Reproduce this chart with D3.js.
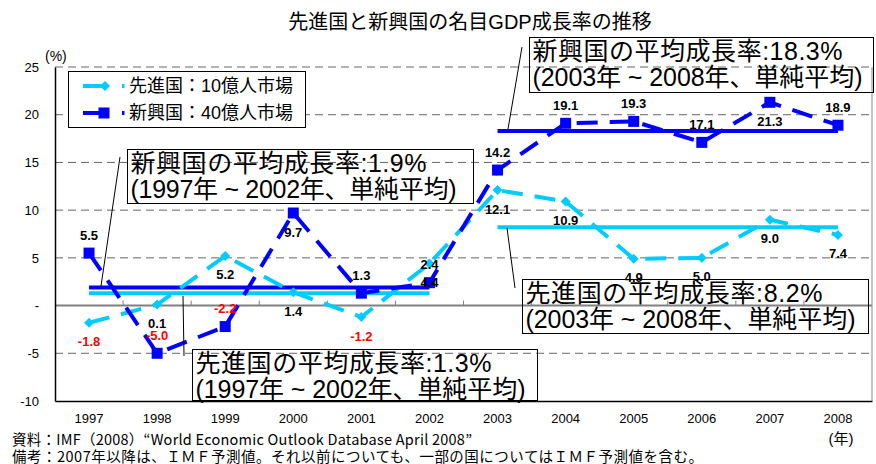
<!DOCTYPE html>
<html><head><meta charset="utf-8">
<script src="https://cdn.jsdelivr.net/npm/d3@7"></script>
<style>
html,body{margin:0;padding:0;background:#fff;}
svg{display:block;}
</style></head>
<body>
<svg id="chart" width="876" height="464"></svg>
<script>
// ---- data ----
const years = ["1997","1998","1999","2000","2001","2002","2003","2004","2005","2006","2007","2008"];
const advanced = [-1.8, 0.1, 5.2, 1.4, -1.2, 4.4, 12.1, 10.9, 4.9, 5.0, 9.0, 7.4];   // 先進国
const emerging = [5.5, -5.0, -2.2, 9.7, 1.3, 2.4, 14.2, 19.1, 19.3, 17.1, 21.3, 18.9]; // 新興国
const avgPeriods = [["1997","2002"],["2003","2008"]];
const advancedAvg = [1.3, 8.2];
const emergingAvg = [1.9, 18.3];
const yTicks = [-10,-5,0,5,10,15,20,25];
const yTickLabels = ["-10","-5","-","5","10","15","20","25"];
const seriesNames = ["先進国：10億人市場","新興国：40億人市場"];
// label placement (style, separate from data)
const advancedLabelSide = ["b","b","b","b","b","b","b","b","b","b","b","b"];
const emergingLabelSide = ["a","a","a","b","a","a","a","a","a","a","b","a"];

const CYAN = "#00ccff", BLUE = "#0000ff";
const JP = "'Noto Sans CJK JP', sans-serif";
const MIX = "'Liberation Sans', 'Noto Sans CJK JP', sans-serif";
const LAT = "'Liberation Sans', Arial, sans-serif";

const svg = d3.select("#chart");
const L = 55, R = 872, T = 67, B = 401;

const x = d3.scaleBand().domain(years).range([L, R]);
const cx = d => x(d) + x.bandwidth()/2;
const y = d3.scaleLinear().domain([-10, 25]).range([B, T]);

// title
svg.append("text").attr("x", 470).attr("y", 22).attr("text-anchor","middle")
  .attr("dominant-baseline","central").attr("font-family", MIX).attr("font-size", 20)
  .attr("fill","#000").text("先進国と新興国の名目GDP成長率の推移");

// (%)
svg.append("text").attr("x", 45).attr("y", 56).attr("dominant-baseline","central")
  .attr("font-family", LAT).attr("font-size", 14).text("(%)");

// gridlines
svg.append("g").selectAll("line").data(yTicks.filter(v => v !== 0 && v !== -10)).join("line")
  .attr("x1", L).attr("x2", R).attr("y1", d => y(d)).attr("y2", d => y(d))
  .attr("stroke", "#666").attr("stroke-width", 1).attr("stroke-dasharray", "8,5");

// right border
svg.append("line").attr("x1", R).attr("x2", R).attr("y1", T).attr("y2", B)
  .attr("stroke", "#888").attr("stroke-width", 1);

// zero line
svg.append("line").attr("x1", L).attr("x2", R).attr("y1", y(0)).attr("y2", y(0))
  .attr("stroke", "#808080").attr("stroke-width", 2);
// category ticks on zero line
svg.append("g").selectAll("line").data(years.slice(1)).join("line")
  .attr("x1", d => x(d)).attr("x2", d => x(d))
  .attr("y1", y(0) - 5).attr("y2", y(0))
  .attr("stroke", "#808080").attr("stroke-width", 1);

// y axis
const yAxis = svg.append("g").attr("transform", `translate(${L},0)`)
  .call(d3.axisLeft(y).tickValues(yTicks).tickSize(0).tickPadding(16)
    .tickFormat((d,i) => yTickLabels[i]));
yAxis.select(".domain").attr("stroke","#000").attr("stroke-width",1.5);
yAxis.selectAll("text").attr("font-family", LAT).attr("font-size", 13).attr("fill","#000");

// x axis
const xAxis = svg.append("g").attr("transform", `translate(0,${B})`)
  .call(d3.axisBottom(x).tickSize(0).tickSizeOuter(0).tickPadding(13));
xAxis.select(".domain").attr("stroke","#000").attr("stroke-width",1.5);
xAxis.selectAll("text").attr("font-family", LAT).attr("font-size", 13).attr("fill","#000");

// average lines
function avgLines(vals, color) {
  svg.append("g").selectAll("line").data(avgPeriods).join("line")
    .attr("x1", d => cx(d[0])).attr("x2", d => cx(d[1]))
    .attr("y1", (d,i) => y(vals[i])).attr("y2", (d,i) => y(vals[i]))
    .attr("stroke", color).attr("stroke-width", 4);
}
avgLines(emergingAvg, BLUE);
avgLines(advancedAvg, CYAN);

// series
const line = d3.line().x((d,i) => cx(years[i])).y(d => y(d));
function series(vals, color, marker) {
  const g = svg.append("g");
  g.append("path").datum(vals).attr("d", line).attr("fill","none")
    .attr("stroke", color).attr("stroke-width", 4).attr("stroke-dasharray","21,12");
  if (marker === "diamond") {
    g.selectAll("path.m").data(vals).join("path").attr("class","m")
      .attr("d", d3.symbol(d3.symbolSquare, 50)())
      .attr("transform", (d,i) => `translate(${cx(years[i])},${y(d)}) rotate(45)`)
      .attr("fill", color);
  } else {
    g.selectAll("path.m").data(vals).join("path").attr("class","m")
      .attr("d", d3.symbol(d3.symbolSquare, 121)())
      .attr("transform", (d,i) => `translate(${cx(years[i])},${y(d)})`)
      .attr("fill", color);
  }
}
series(advanced, CYAN, "diamond");
series(emerging, BLUE, "square");

// data labels
function labels(vals, sides) {
  svg.append("g").selectAll("text").data(vals).join("text")
    .attr("x", (d,i) => cx(years[i]))
    .attr("y", (d,i) => y(d) + (sides[i] === "a" ? -18 : 19))
    .attr("text-anchor","middle").attr("dominant-baseline","central")
    .attr("font-family", LAT).attr("font-size", 13).attr("font-weight","bold")
    .attr("fill", d => d < 0 ? "#ff0000" : "#000")
    .text(d => d.toFixed(1));
}
labels(advanced, advancedLabelSide);
labels(emerging, emergingLabelSide);

// callout boxes
function callout(bx, by, bw, bh, lines, widths, lx1, ly1, lx2, ly2) {
  svg.append("line").attr("x1", lx1).attr("y1", ly1).attr("x2", lx2).attr("y2", ly2)
    .attr("stroke","#000").attr("stroke-width",1);
  svg.append("rect").attr("x", bx).attr("y", by).attr("width", bw).attr("height", bh)
    .attr("fill","none").attr("stroke","#000").attr("stroke-width",1);
  lines.forEach((t, i) => {
    svg.append("text").attr("x", bx + 3).attr("y", by + 13 + i*26.5)
      .attr("dominant-baseline","central").attr("font-family", MIX)
      .attr("font-size", 25).attr("fill","#000")
      .attr("textLength", widths[i]).attr("lengthAdjust", "spacing").text(t);
  });
}
callout(127.5, 149.5, 346, 54,
  ["新興国の平均成長率:1.9%", "(1997年 ~ 2002年、単純平均)"], [296, 326], 120, 157, 101, 286);
callout(529.5, 37.5, 344, 55,
  ["新興国の平均成長率:18.3%", "(2003年 ~ 2008年、単純平均)"], [310, 330], 522, 47, 508, 129);
callout(522.5, 279.5, 346, 54,
  ["先進国の平均成長率:8.2%", "(2003年 ~ 2008年、単純平均)"], [297, 330], 507, 228, 515, 288);
callout(192.5, 349.5, 345, 51,
  ["先進国の平均成長率:1.3%", "(1997年 ~ 2002年、単純平均)"], [296, 330], 183, 296, 184, 356);

// legend
const lg = svg.append("g");
lg.append("rect").attr("x", 68.5).attr("y", 71.5).attr("width", 237).attr("height", 56)
  .attr("fill","#fff").attr("stroke","#000").attr("stroke-width",1);
[[CYAN,"diamond"],[BLUE,"square"]].forEach((s, i) => {
  const ly = 86 + i*27;
  lg.append("line").attr("x1", 83).attr("x2", 104).attr("y1", ly).attr("y2", ly)
    .attr("stroke", s[0]).attr("stroke-width", 4);
  if (s[1] === "diamond") {
    lg.append("path").attr("d", d3.symbol(d3.symbolSquare, 50)())
      .attr("transform", `translate(105,${ly}) rotate(45)`).attr("fill", s[0]);
  } else {
    lg.append("path").attr("d", d3.symbol(d3.symbolSquare, 121)())
      .attr("transform", `translate(104,${ly})`).attr("fill", s[0]);
  }
  lg.append("rect").attr("x", 122).attr("y", ly - 2).attr("width", 2.5).attr("height", 4).attr("fill", s[0]);
  lg.append("text").attr("x", 129).attr("y", ly).attr("dominant-baseline","central")
    .attr("font-family", MIX).attr("font-size", 18).attr("fill","#000").text(seriesNames[i]);
});

// footer
svg.append("text").attr("x", 12).attr("y", 438).attr("dominant-baseline","central")
  .attr("font-family", JP).attr("font-size", 14.5).attr("textLength", 460).attr("lengthAdjust","spacing")
  .text("資料：IMF（2008）“World Economic Outlook Database April 2008”");
svg.append("text").attr("x", 12).attr("y", 455).attr("dominant-baseline","central")
  .attr("font-family", JP).attr("font-size", 14.5).attr("textLength", 691).attr("lengthAdjust","spacing")
  .text("備考：2007年以降は、ＩＭＦ予測値。それ以前についても、一部の国についてはＩＭＦ予測値を含む。");
svg.append("text").attr("x", 841).attr("y", 438).attr("text-anchor","middle").attr("dominant-baseline","central")
  .attr("font-family", MIX).attr("font-size", 15).text("(年)");
</script>
</body></html>
